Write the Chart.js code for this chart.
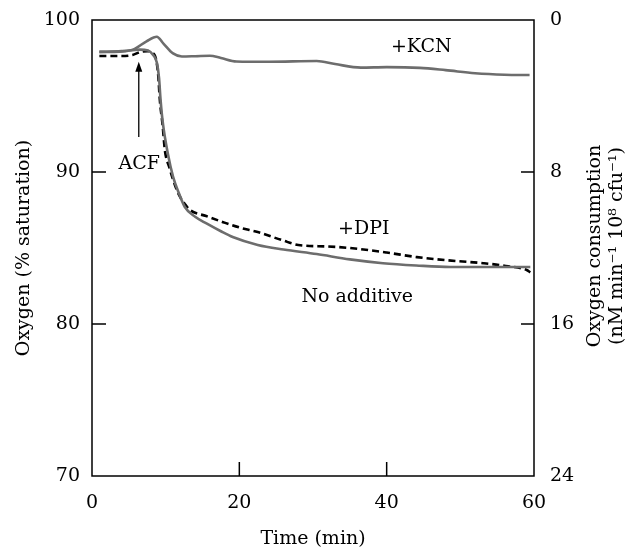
<!DOCTYPE html>
<html>
<head>
<meta charset="utf-8">
<script src="https://cdn.jsdelivr.net/npm/chart.js@4"></script>
<style>
  html, body { margin: 0; padding: 0; background: #fff; }
  #wrap { width: 627px; height: 548px; }
</style>
</head>
<body>
<div id="wrap"><canvas id="o2Chart" width="627" height="548"></canvas></div>
<script>
// time (min) / oxygen (% saturation)
const kcnTime = [1, 3, 4.5, 5.6, 7.4, 8.8, 9.7, 11, 12.2, 14, 16, 17.5, 19.6, 24, 30.5, 33, 36.5, 40, 44.5, 48, 52, 56, 59.4];
const kcnO2 = [97.9, 97.9, 97.95, 98.05, 98.6, 98.9, 98.45, 97.8, 97.6, 97.62, 97.65, 97.5, 97.27, 97.25, 97.3, 97.1, 96.87, 96.9, 96.85, 96.7, 96.5, 96.4, 96.38];

const noAddTime = [1, 4, 6.5, 7.6, 8.3, 8.8, 9.1, 9.3, 9.6, 10.3, 11, 11.8, 12.6, 14, 15.6, 17.5, 19.1, 22.5, 26, 30.5, 35, 39.5, 44, 48.6, 54, 59.5];
const noAddO2 = [97.9, 97.95, 98.05, 98.0, 97.7, 97.2, 96.2, 94.8, 93.3, 91.2, 89.7, 88.6, 87.7, 87.05, 86.6, 86.1, 85.72, 85.2, 84.9, 84.6, 84.25, 84.0, 83.85, 83.75, 83.75, 83.75];

const dpiTime = [1, 4, 5.5, 6.6, 7.5, 8.2, 8.7, 9.0, 9.2, 9.6, 9.9, 10.5, 11, 11.8, 12.6, 13.3, 15.5, 17.8, 20, 22.5, 25.9, 28, 32, 35, 40, 44.1, 48, 53.1, 56.5, 59, 59.5];
const dpiO2 = [97.63, 97.63, 97.7, 97.9, 97.95, 97.85, 97.4, 96.3, 94.8, 93.0, 91.4, 90.3, 89.5, 88.5, 87.9, 87.5, 87.1, 86.7, 86.35, 86.05, 85.5, 85.2, 85.1, 85.0, 84.7, 84.4, 84.2, 84.0, 83.8, 83.55, 83.4];

const xTicks = [0, 20, 40, 60];
const leftTicks = [70, 80, 90, 100];
const rightTicks = [0, 8, 16, 24];

const FONT = "'DejaVu Serif', serif";
const GREY = "#6d6d6d";

function pts(ts, vs) {
  return ts.map((t, i) => ({ x: t, y: vs[i] }));
}

// box, inner ticks, arrow, labels and right-hand title
const extras = {
  id: "extras",
  afterDraw(chart) {
    const c = chart.ctx;
    const a = chart.chartArea;
    const sx = chart.scales.x, sy = chart.scales.y, sy2 = chart.scales.y2;
    c.save();
    c.strokeStyle = "#000";
    c.lineWidth = 1.5;
    c.strokeRect(a.left, a.top, a.right - a.left, a.bottom - a.top);

    const tl = 14;
    c.beginPath();
    xTicks.slice(1, -1).forEach(v => {
      const px = sx.getPixelForValue(v);
      c.moveTo(px, a.bottom); c.lineTo(px, a.bottom - tl);
    });
    leftTicks.slice(1, -1).forEach(v => {
      const py = sy.getPixelForValue(v);
      c.moveTo(a.left, py); c.lineTo(a.left + tl, py);
    });
    rightTicks.slice(1, -1).forEach(v => {
      const py = sy2.getPixelForValue(v);
      c.moveTo(a.right, py); c.lineTo(a.right - tl + 1, py);
    });
    c.stroke();

    // ACF arrow
    const ax = sx.getPixelForValue(6.35);
    const ay0 = sy.getPixelForValue(92.3);
    const ay1 = sy.getPixelForValue(97.25);
    c.lineWidth = 1.3;
    c.beginPath();
    c.moveTo(ax, ay0); c.lineTo(ax, ay1 + 8);
    c.stroke();
    c.fillStyle = "#000";
    c.beginPath();
    c.moveTo(ax, ay1); c.lineTo(ax - 3.5, ay1 + 10); c.lineTo(ax + 3.5, ay1 + 10);
    c.closePath(); c.fill();

    c.font = "19px " + FONT;
    c.textAlign = "center";
    c.textBaseline = "middle";
    const notes = [["+KCN", 44.7, 98.2], ["+DPI", 36.9, 86.25], ["No additive", 36.0, 81.8], ["ACF", 6.4, 90.5]];
    notes.forEach(n => c.fillText(n[0], sx.getPixelForValue(n[1]), sy.getPixelForValue(n[2])));

    // right axis title reads bottom-to-top
    const cy = (a.top + a.bottom) / 2 - 2;
    c.translate(0, cy);
    c.rotate(-Math.PI / 2);
    c.fillText("Oxygen consumption", 0, 595);
    c.fillText("(nM min\u207B\u00B9 10\u2078 cfu\u207B\u00B9)", 0, 617);
    c.restore();
  }
};

function fitV(w) {
  return s => { s.width = w; s.paddingTop = 0; s.paddingBottom = 0; };
}

new Chart(document.getElementById("o2Chart"), {
  type: "line",
  data: {
    datasets: [
      { label: "+KCN", data: pts(kcnTime, kcnO2), borderColor: GREY, borderWidth: 2.6 },
      { label: "No additive", data: pts(noAddTime, noAddO2), borderColor: GREY, borderWidth: 2.6 },
      { label: "+DPI", data: pts(dpiTime, dpiO2), borderColor: "#000", borderWidth: 2.6, borderDash: [7, 4] }
    ]
  },
  options: {
    responsive: false,
    animation: false,
    events: [],
    layout: { padding: { top: 20, left: 0, right: 0, bottom: 0 } },
    elements: {
      point: { radius: 0 },
      line: { cubicInterpolationMode: "monotone", fill: false }
    },
    plugins: { legend: { display: false }, tooltip: { enabled: false } },
    scales: {
      x: {
        type: "linear", min: 0, max: 60,
        afterFit: s => { s.height = 72; s.paddingLeft = 0; s.paddingRight = 0; },
        afterBuildTicks: s => { s.ticks = xTicks.map(v => ({ value: v })); },
        grid: { display: false, drawTicks: false },
        border: { display: false },
        ticks: { color: "#000", padding: 16, maxRotation: 0, font: { family: FONT, size: 19 } },
        title: { display: true, text: "Time (min)", color: "#000", padding: { top: 0, bottom: -2 }, font: { family: FONT, size: 19 } }
      },
      y: {
        position: "left", min: 70, max: 100,
        afterFit: fitV(92),
        afterBuildTicks: s => { s.ticks = leftTicks.map(v => ({ value: v })); },
        grid: { display: false, drawTicks: false },
        border: { display: false },
        ticks: { color: "#000", padding: 12, font: { family: FONT, size: 19 } },
        title: { display: true, text: "Oxygen (% saturation)", color: "#000", padding: { top: 13, bottom: 0 }, font: { family: FONT, size: 19 } }
      },
      y2: {
        position: "right", min: 0, max: 24, reverse: true,
        afterFit: fitV(93),
        afterBuildTicks: s => { s.ticks = rightTicks.map(v => ({ value: v })); },
        grid: { display: false, drawTicks: false },
        border: { display: false },
        ticks: { color: "#000", padding: 16, font: { family: FONT, size: 19 } }
      }
    }
  },
  plugins: [extras]
});
</script>
</body>
</html>
